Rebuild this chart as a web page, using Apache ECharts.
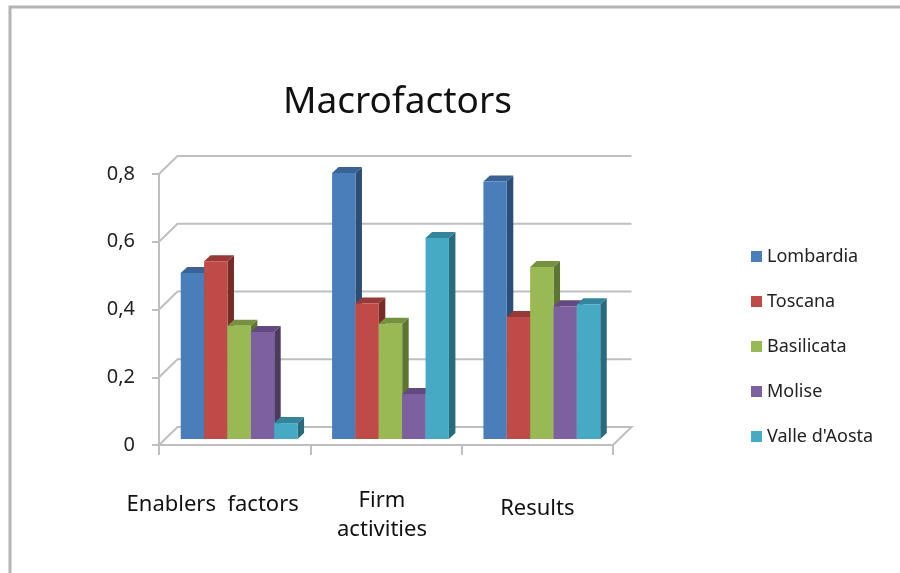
<!DOCTYPE html>
<html>
<head>
<meta charset="utf-8">
<style>html,body{margin:0;padding:0;background:#fff}#c{width:900px;height:573px}</style>
<script src="https://cdn.jsdelivr.net/npm/echarts@6/dist/echarts.min.js"></script>
</head>
<body>
<div id="c"></div>
<script>
// Chart content
const chartTitle = 'Macrofactors';
const categories = ['Enablers  factors', 'Firm activities', 'Results'];
const yTicks = [0, 0.2, 0.4, 0.6, 0.8];
const lombardia = [0.49, 0.785, 0.76];
const toscana = [0.525, 0.40, 0.36];
const basilicata = [0.334, 0.34, 0.508];
const molise = [0.316, 0.133, 0.392];
const valleDAosta = [0.047, 0.593, 0.398];

const regions = [
  { name: 'Lombardia', values: lombardia, front: '#4a7ebb', top: '#3a6294', side: '#2c4d75' },
  { name: 'Toscana', values: toscana, front: '#be4b48', top: '#963a38', side: '#772c2a' },
  { name: 'Basilicata', values: basilicata, front: '#98b954', top: '#769140', side: '#5e7530' },
  { name: 'Molise', values: molise, front: '#7d60a0', top: '#62497f', side: '#4c3a63' },
  { name: "Valle d'Aosta", values: valleDAosta, front: '#46aac5', top: '#34859b', side: '#2a6a7d' }
];

// Projection of the pseudo-3D box
const wallDx = 18.5, wallDy = 18;      // depth of the floor and back wall
const barLift = 6;                     // bars stand inside the floor
const barDepth = 6.5;                  // visible depth of each bar
const groupFill = 0.772;               // share of a category taken by its five bars
const groupShift = 4.5;                // bars sit slightly right of the category centre
const wallColor = '#bfbfbf';

const lineStyle = { stroke: wallColor, lineWidth: 2, fill: null };

function renderWall(params, api) {
  const v = api.value(0);
  const rect = params.coordSys;
  const y = api.coord([0, v])[1];
  const left = rect.x, right = rect.x + rect.width;
  const points = [[left, y], [left + wallDx, y - wallDy], [right + wallDx, y - wallDy]];
  if (v === 0) points.push([right, y]);
  return { type: 'polyline', shape: { points }, style: lineStyle, silent: true };
}

function barRenderer(index) {
  const r = regions[index];
  return function (params, api) {
    const cat = api.value(0);
    const center = api.coord([cat, 0])[0] + groupShift;
    const w = api.size([1, 0])[0] * groupFill / regions.length;
    const x = center - w * regions.length / 2 + w * index;
    const y0 = api.coord([cat, 0])[1] - barLift;
    const yt = api.coord([cat, api.value(1)])[1] - barLift;
    const d = barDepth, h = barLift;
    return {
      type: 'group',
      children: [
        { type: 'polygon', shape: { points: [[x + w, yt], [x + w + d, yt - h], [x + w + d, y0 - h], [x + w, y0]] }, style: { fill: r.side } },
        { type: 'polygon', shape: { points: [[x, yt], [x + d, yt - h], [x + w + d, yt - h], [x + w, yt]] }, style: { fill: r.top } },
        { type: 'rect', shape: { x, y: yt, width: w, height: y0 - yt }, style: { fill: r.front } }
      ]
    };
  };
}

const font = '"Noto Sans", "Open Sans", sans-serif';
const labelStyle = { fontFamily: font, fontSize: 22, color: '#111' };
const chart = echarts.init(document.getElementById('c'), null, { renderer: 'canvas' });

chart.setOption({
  animation: false,
  backgroundColor: '#ffffff',
  title: {
    text: chartTitle,
    left: 278, top: 79,
    textStyle: { fontFamily: font, fontSize: 37, fontWeight: 'normal', color: '#111' }
  },
  legend: {
    orient: 'vertical',
    left: 746, top: 240,
    icon: 'rect',
    itemWidth: 11, itemHeight: 11,
    itemGap: 22,
    data: regions.map(r => r.name),
    textStyle: { fontFamily: font, fontSize: 18, color: '#222', lineHeight: 23 }
  },
  grid: { left: 159, right: 287, top: 174, bottom: 128 },
  xAxis: {
    type: 'category',
    data: categories,
    axisLine: { lineStyle: { color: wallColor, width: 2 } },
    axisTick: { show: true, length: 10, lineStyle: { color: wallColor, width: 2 } },
    axisLabel: {
      interval: 0,
      margin: 0,
      fontFamily: font, fontSize: 22, color: '#111',
      formatter: (value, i) => ['{a|Enablers  factors}', '{b|Firm}\n{c|activities}', '{d|Results}'][i],
      rich: {
        a: Object.assign({ padding: [49, 44, 0, 0] }, labelStyle),
        b: Object.assign({ padding: [45, 8, 0, 0] }, labelStyle),
        c: Object.assign({ padding: [7, 8, 0, 0] }, labelStyle),
        d: Object.assign({ padding: [53, 0, 0, 0] }, labelStyle)
      }
    }
  },
  yAxis: {
    type: 'value',
    min: 0, max: 0.8, interval: 0.2,
    axisLine: { show: true, lineStyle: { color: wallColor, width: 2 } },
    axisTick: { show: true, length: 7, lineStyle: { color: wallColor, width: 2 } },
    splitLine: { show: false },
    axisLabel: {
      margin: 24,
      padding: [3, 0, 0, 0],
      fontFamily: font, fontSize: 20, color: '#222',
      formatter: v => String(+v.toFixed(1)).replace('.', ',')
    }
  },
  graphic: [{
    type: 'polyline',
    silent: true,
    shape: { points: [[10, 573], [10, 7], [900, 7]] },
    style: { stroke: '#b4b4b4', lineWidth: 3, fill: null }
  }],
  series: [
    {
      type: 'custom',
      name: 'walls',
      coordinateSystem: 'cartesian2d',
      clip: false,
      silent: true,
      encode: { y: 0 },
      data: yTicks.map(v => [v]),
      renderItem: renderWall
    }
  ].concat(regions.map((r, i) => ({
    type: 'custom',
    name: r.name,
    coordinateSystem: 'cartesian2d',
    clip: false,
    itemStyle: { color: r.front },
    encode: { x: 0, y: 1 },
    data: r.values.map((v, c) => [c, v]),
    renderItem: barRenderer(i)
  })))
});
</script>
</body>
</html>
